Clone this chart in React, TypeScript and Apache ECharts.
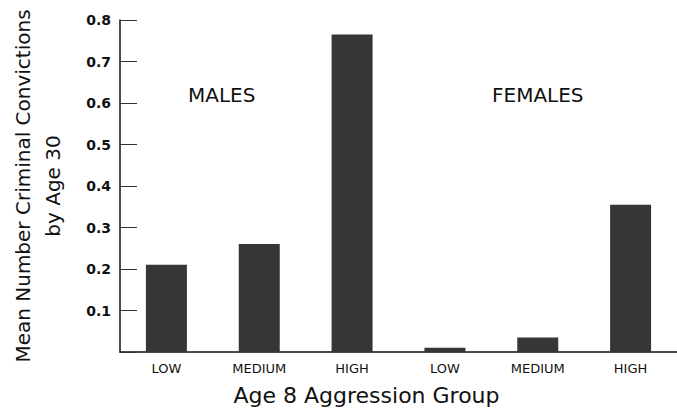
import React, { useEffect, useRef } from "react";
import * as echarts from "echarts";

const categories = ["LOW", "MEDIUM", "HIGH", "LOW", "MEDIUM", "HIGH"];
const meanConvictions = [0.21, 0.26, 0.765, 0.01, 0.035, 0.355];
const groupLabels = ["MALES", "FEMALES"];
const yTicks = [0, 0.1, 0.2, 0.3, 0.4, 0.5, 0.6, 0.7, 0.8];

const FONT = "DejaVu Sans";

export default function App() {
  const ref = useRef<HTMLDivElement>(null);
  useEffect(() => {
    document.body.style.margin = "0";
    const chart = echarts.init(ref.current!, undefined, { renderer: "svg" });
    chart.setOption({
      animation: false,
      backgroundColor: "#ffffff",
      grid: { left: 114, right: -15, top: 20, bottom: 49, containLabel: false },
      xAxis: {
        type: "category",
        data: categories,
        name: "Age 8 Aggression Group",
        nameLocation: "middle",
        nameGap: 32,
        nameTextStyle: {
          fontFamily: FONT,
          fontSize: 22,
          color: "#111",
          padding: [0, 64, 0, 0],
        },
        axisLine: { lineStyle: { color: "#111", width: 1.5 } },
        axisTick: { show: false },
        axisLabel: { fontFamily: FONT, fontSize: 13, color: "#111", margin: 10 },
      },
      yAxis: {
        type: "value",
        min: yTicks[0],
        max: yTicks[yTicks.length - 1],
        interval: 0.1,
        name: "Mean Number Criminal Convictions\nby Age 30",
        nameLocation: "middle",
        nameGap: 52,
        nameTextStyle: { fontFamily: FONT, fontSize: 20, color: "#111", lineHeight: 30 },
        axisLine: { show: true, lineStyle: { color: "#111", width: 1.5 } },
        axisTick: { show: true, inside: true, length: 17, lineStyle: { color: "#333", width: 1 } },
        splitLine: { show: false },
        axisLabel: {
          fontFamily: FONT,
          fontSize: 14,
          fontWeight: "bold",
          color: "#111",
          margin: 9,
          formatter: (v: number) => (v === 0 ? "" : v.toFixed(1)),
        },
      },
      graphic: [
        {
          type: "text",
          left: 188,
          top: 85,
          style: { text: groupLabels[0], font: `20px "${FONT}"`, fill: "#111" },
        },
        {
          type: "text",
          left: 492,
          top: 85,
          style: { text: groupLabels[1], font: `20px "${FONT}"`, fill: "#111" },
        },
      ],
      series: [
        {
          type: "bar",
          data: meanConvictions,
          barWidth: 41,
          itemStyle: { color: "#363636" },
        },
      ],
    });
    return () => chart.dispose();
  }, []);
  return <div ref={ref} style={{ width: 677, height: 411 }} />;
}
